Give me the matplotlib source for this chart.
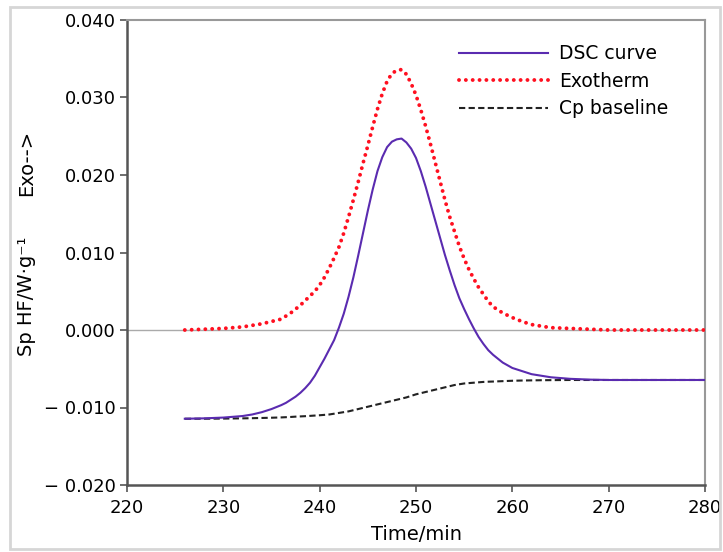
import matplotlib
matplotlib.use("Agg")
import matplotlib.pyplot as plt
from matplotlib.patches import Rectangle

# ---- data ----
time = [226, 228, 230, 232, 233, 234, 235,
        236, 236.5, 237, 237.5, 238, 238.5, 239, 239.5, 240, 240.5, 241, 241.5,
        242, 242.5, 243, 243.5, 244, 244.5, 245, 245.5, 246, 246.5, 247, 247.5,
        248, 248.5, 249, 249.5, 250, 250.5, 251, 251.5, 252, 252.5, 253, 253.5,
        254, 254.5, 255, 255.5, 256, 256.5, 257, 257.5, 258,
        259, 260, 261, 262, 263, 264,
        266, 268, 270, 272, 274, 276, 278, 280]

dsc_curve = [-0.01145, -0.0114, -0.0113, -0.0111, -0.0109, -0.0106, -0.0102,
             -0.0097, -0.0094, -0.0090, -0.0086, -0.0081, -0.0075, -0.0068,
             -0.0059, -0.0048, -0.0037, -0.0025, -0.0013, 0.0003, 0.0021,
             0.0043, 0.0068, 0.0096, 0.0125, 0.0154, 0.0181, 0.0205, 0.0223,
             0.0236, 0.0243, 0.0246, 0.0247, 0.0242, 0.0234, 0.0222, 0.0205,
             0.0185, 0.0163, 0.0141, 0.0119, 0.0097, 0.0077, 0.0058, 0.0041,
             0.0027, 0.0014, 0.0002, -0.0009, -0.0018, -0.0026, -0.0032,
             -0.0042, -0.0049, -0.0053, -0.0057, -0.0059, -0.0061,
             -0.0063, -0.0064, -0.00645, -0.00645, -0.00645, -0.00645,
             -0.00645, -0.00645]

exotherm = [0.0, 0.0001, 0.0002, 0.0004, 0.0006, 0.0008, 0.0011,
            0.0014, 0.0018, 0.0022, 0.0027, 0.0032, 0.0038, 0.0044, 0.0050,
            0.0058, 0.0068, 0.0080, 0.0093, 0.0107, 0.0125, 0.0146, 0.0168,
            0.0191, 0.0215, 0.0238, 0.0262, 0.0285, 0.0305, 0.0321, 0.0331,
            0.0335, 0.0336, 0.0330, 0.0318, 0.0303, 0.0284, 0.0263, 0.0240,
            0.0216, 0.0192, 0.0168, 0.0146, 0.0127, 0.0108, 0.0092, 0.0078,
            0.0066, 0.0055, 0.0046, 0.0037, 0.0030,
            0.0022, 0.0016, 0.0011, 0.0007, 0.0005, 0.0003,
            0.0002, 0.0001, 0.0, 0.0, 0.0, 0.0, 0.0, 0.0]

cp_baseline = [-0.01145, -0.01145, -0.01143, -0.0114, -0.01138, -0.01135,
               -0.01132,
               -0.01128, -0.01125, -0.01122, -0.01118, -0.01115, -0.01112,
               -0.01108, -0.01104, -0.0110, -0.01095, -0.0109, -0.0108,
               -0.0107, -0.0106, -0.0105, -0.01035, -0.0102, -0.01005,
               -0.0099, -0.00975, -0.0096, -0.00945, -0.0093, -0.00915,
               -0.0090, -0.00885, -0.0087, -0.0085, -0.0083, -0.00815,
               -0.0080, -0.00785, -0.0077, -0.00755, -0.0074, -0.00725,
               -0.0071, -0.0070, -0.0069, -0.00685, -0.0068, -0.00675,
               -0.0067, -0.00667, -0.00665,
               -0.0066, -0.00655, -0.00652, -0.0065, -0.00648, -0.00647,
               -0.00645, -0.00645, -0.00645, -0.00645, -0.00645, -0.00645,
               -0.00645, -0.00645]

series_labels = ["DSC curve", "Exotherm", "Cp baseline"]
x_ticks = [220, 230, 240, 250, 260, 270, 280]
y_ticks = [0.040, 0.030, 0.020, 0.010, 0.000, -0.010, -0.020]
y_tick_labels = ["0.040", "0.030", "0.020", "0.010", "0.000",
                 "\u2212 0.010", "\u2212 0.020"]
x_label = "Time/min"
y_label_main = "Sp HF/W\u00b7g\u207b\u00b9"
y_label_exo = "Exo-->"

# ---- figure ----
plt.rcParams['font.family'] = ['DejaVu Sans']
fig = plt.figure(figsize=(7.23, 5.52), dpi=100)
fig.patches.append(Rectangle((10 / 723, 1 - 549 / 552), 710 / 723, 542 / 552,
                             transform=fig.transFigure, fill=False,
                             edgecolor='#d6d6d6', linewidth=2))
ax = fig.add_axes([127 / 723, 1 - 485 / 552, 578 / 723, 465 / 552])

ax.axhline(0, color='#aaaaaa', linewidth=1.0, zorder=1)
ax.plot(time, dsc_curve, color='#5a2bb0', linewidth=1.5, label=series_labels[0], zorder=3)
ax.plot(time, exotherm, color='#ff1020', linewidth=2.8, linestyle=(0, (0.01, 1.75)),
        dash_capstyle='round', label=series_labels[1], zorder=3)
ax.plot(time, cp_baseline, color='#222222', linewidth=1.5, linestyle=(0, (3.0, 1.6)),
        label=series_labels[2], zorder=2)

ax.set_xlim(220, 280)
ax.set_ylim(-0.020, 0.040)
ax.set_xticks(x_ticks)
ax.set_xticklabels([str(v) for v in x_ticks])
ax.set_yticks(y_ticks)
ax.set_yticklabels(y_tick_labels)
ax.tick_params(axis='both', labelsize=13, length=5, width=1.2, color='#555555',
               direction='out', pad=3)
ax.tick_params(axis='x', pad=5)

for side in ['left', 'bottom']:
    ax.spines[side].set_color('#555555')
    ax.spines[side].set_linewidth(1.8)
for side in ['top', 'right']:
    ax.spines[side].set_color('#999999')
    ax.spines[side].set_linewidth(1.5)

ax.set_xlabel(x_label, fontsize=14, labelpad=6)
fig.text(27 / 723, 1 - 296 / 552, y_label_main, rotation=90, fontsize=14,
         ha='center', va='center')
fig.text(27 / 723, 1 - 163 / 552, y_label_exo, rotation=90, fontsize=14,
         ha='center', va='center')

leg = ax.legend(loc='upper right', frameon=False, fontsize=13.5, handlelength=4.7,
                handletextpad=0.6, labelspacing=0.45, borderaxespad=0.4,
                bbox_to_anchor=(0.962, 0.98))

fig.savefig("out.png", dpi=100)
